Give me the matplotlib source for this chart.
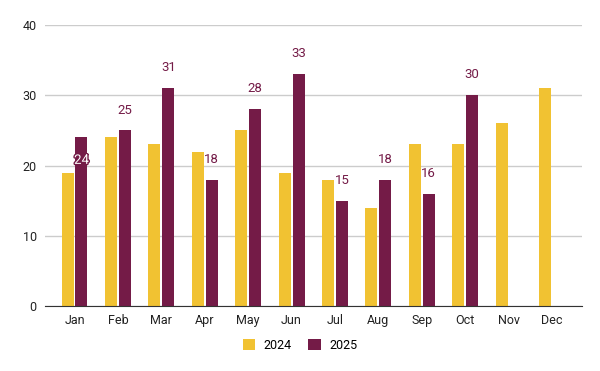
import matplotlib.pyplot as plt
import matplotlib.patheffects as pe
import numpy as np

plt.rcParams['font.family'] = ['Roboto', 'DejaVu Sans']

months = ["Jan", "Feb", "Mar", "Apr", "May", "Jun",
          "Jul", "Aug", "Sep", "Oct", "Nov", "Dec"]
sales_2024 = [19, 24, 23, 22, 25, 19, 18, 14, 23, 23, 26, 31]
sales_2025 = [24, 25, 31, 18, 28, 33, 15, 18, 16, 30, None, None]

yellow = "#F1C232"
maroon = "#741B47"

fig = plt.figure(figsize=(6, 3.71), dpi=100)
ax = fig.add_axes([0.075, 0.175, 0.895, 0.7575])

x = np.arange(len(months))
w = 0.276
off = 0.16

ax.bar(x - off, sales_2024, width=w, color=yellow, label="2024", zorder=3)
x25 = [i for i, v in zip(x, sales_2025) if v is not None]
v25 = [v for v in sales_2025 if v is not None]
ax.bar(np.array(x25) + off, v25, width=w, color=maroon, label="2025", zorder=3)

# value labels on the 2025 series
for i, v in zip(x25, v25):
    if i == 0:
        ax.annotate(str(v), (i + off, v), xytext=(0, -16.5), textcoords="offset points",
                    ha="center", va="center", fontsize=9.5, color="white", zorder=5,
                    path_effects=[pe.withStroke(linewidth=2, foreground=maroon)])
    else:
        ax.annotate(str(v), (i + off, v), xytext=(0, 10), textcoords="offset points",
                    ha="center", va="bottom", fontsize=9.5, color=maroon, zorder=5)

ax.set_xlim(-0.68, 11.69)
ax.set_ylim(0, 40)
ax.set_yticks([0, 10, 20, 30, 40])
ax.set_xticks(x)
ax.set_xticklabels(months)
ax.tick_params(axis="both", length=0, labelsize=9, colors="#222222")
ax.tick_params(axis="y", pad=6)
ax.tick_params(axis="x", pad=6)

ax.grid(axis="y", color="#cccccc", linewidth=1, zorder=0)
for s in ["top", "right", "left"]:
    ax.spines[s].set_visible(False)
ax.spines["bottom"].set_color("#333333")
ax.spines["bottom"].set_zorder(4)

fig.legend(loc="center", bbox_to_anchor=(0.5, 0.07), ncol=2, frameon=False,
           fontsize=9, handlelength=1.0, handleheight=1.0, columnspacing=1.3,
           handletextpad=0.7)

fig.savefig("out.png", dpi=100)
